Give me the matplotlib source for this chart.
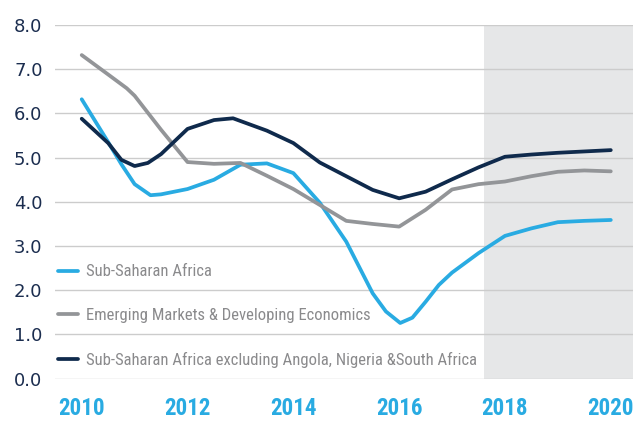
#!/usr/bin/env python3
import matplotlib
matplotlib.use("Agg")
import matplotlib.pyplot as plt
from matplotlib import font_manager

# values, half-year steps plus a few extra points at bends
SSA_X = [2010.0, 2010.5, 2010.75, 2011.0, 2011.3, 2011.5, 2012.0, 2012.5, 2013.0, 2013.5,
         2014.0, 2014.5, 2015.0, 2015.5, 2015.75, 2016.02, 2016.25, 2016.5, 2016.75,
         2017.0, 2017.5, 2018.0, 2018.5, 2019.0, 2019.5, 2020.0]
SSA_Y = [6.32, 5.35, 4.85, 4.40, 4.15, 4.17, 4.29, 4.50, 4.84, 4.87,
         4.65, 3.98, 3.10, 1.93, 1.52, 1.26, 1.38, 1.74, 2.12,
         2.40, 2.84, 3.23, 3.40, 3.54, 3.57, 3.59]

EMDE_X = [2010.0, 2010.5, 2010.85, 2011.0, 2011.5, 2012.0, 2012.5, 2013.0, 2013.5, 2014.0,
          2014.5, 2015.0, 2015.5, 2016.0, 2016.5, 2017.0, 2017.5, 2018.0, 2018.5,
          2019.0, 2019.5, 2020.0]
EMDE_Y = [7.32, 6.88, 6.57, 6.40, 5.63, 4.90, 4.86, 4.88, 4.59, 4.29,
          3.93, 3.57, 3.50, 3.44, 3.82, 4.28, 4.40, 4.46, 4.58,
          4.68, 4.71, 4.69]

EXCL_X = [2010.0, 2010.5, 2010.75, 2011.0, 2011.25, 2011.5, 2012.0, 2012.5, 2012.86, 2013.5,
          2014.0, 2014.5, 2015.0, 2015.5, 2016.0, 2016.5, 2017.0, 2017.5, 2018.0,
          2018.5, 2019.0, 2019.5, 2020.0]
EXCL_Y = [5.88, 5.33, 4.95, 4.81, 4.88, 5.08, 5.65, 5.85, 5.89, 5.61,
          5.33, 4.89, 4.58, 4.27, 4.08, 4.23, 4.51, 4.78, 5.02,
          5.07, 5.11, 5.14, 5.17]

LABELS = ["Sub-Saharan Africa",
          "Emerging Markets & Developing Economics",
          "Sub-Saharan Africa excluding Angola, Nigeria &South Africa"]
X_TICKS = [2010, 2012, 2014, 2016, 2018, 2020]
Y_TICKS = [0, 1, 2, 3, 4, 5, 6, 7, 8]
FORECAST_START = 2017.6

BLUE = "#29abe2"
GREY = "#939598"
NAVY = "#0f2a4c"


def narrow_font():
    # look for a condensed face; fall back to Roboto
    names = {f.name for f in font_manager.fontManager.ttflist}
    for n in ["Liberation Sans Narrow", "Roboto Condensed", "Open Sans Condensed",
              "Noto Sans Condensed"]:
        if n in names:
            return {"family": n}, 1.0
    for f in font_manager.fontManager.ttflist:
        if f.name == "DejaVu Sans" and f.stretch == "condensed":
            return {"family": "DejaVu Sans", "stretch": "condensed"}, 0.9
    return {"family": "Roboto"}, 0.82


def main():
    nf, scale = narrow_font()

    fig = plt.figure(figsize=(6.33, 4.21), dpi=100)
    ax = fig.add_axes([0.0869, 0.1005, 0.9131, 0.8401])

    ax.set_xlim(2009.495, 2020.42)
    ax.set_ylim(0, 8)

    ax.axvspan(FORECAST_START, 2020.42, color="#e6e7e8", zorder=0, lw=0)
    ax.set_axisbelow(True)
    ax.grid(axis="y", color="#cccccc", lw=1.0)
    ax.grid(axis="x", visible=False)

    lw = 2.7
    ax.plot(SSA_X, SSA_Y, color=BLUE, lw=lw, solid_capstyle="round",
            solid_joinstyle="round", label=LABELS[0], zorder=3)
    ax.plot(EMDE_X, EMDE_Y, color=GREY, lw=lw, solid_capstyle="round",
            solid_joinstyle="round", label=LABELS[1], zorder=3)
    ax.plot(EXCL_X, EXCL_Y, color=NAVY, lw=lw, solid_capstyle="round",
            solid_joinstyle="round", label=LABELS[2], zorder=4)

    for s in ax.spines.values():
        s.set_visible(False)

    ax.set_yticks(Y_TICKS)
    ax.set_yticklabels([f"{v:.1f}" for v in Y_TICKS])
    ax.set_xticks(X_TICKS)
    ax.set_xticklabels([str(v) for v in X_TICKS])
    ax.tick_params(axis="both", length=0)
    ax.tick_params(axis="y", pad=9, labelsize=13, labelcolor="#1b2d4f")
    ax.tick_params(axis="x", pad=13, labelcolor=BLUE)
    for t in ax.get_xticklabels():
        t.set_fontproperties(font_manager.FontProperties(weight="bold",
                                                         size=16.6 * scale, **nf))
        t.set_color(BLUE)

    leg_size = 12 * scale
    leg = ax.legend(loc="lower left", bbox_to_anchor=(0.005, 0.03), frameon=False,
                    borderpad=0, borderaxespad=0, handlelength=1.2 * 12 / leg_size,
                    handletextpad=0.5 * 12 / leg_size,
                    labelspacing=1.73 * 12 / leg_size,
                    prop=font_manager.FontProperties(size=leg_size, **nf))
    for t in leg.get_texts():
        t.set_color("#8a8a8c")

    fig.savefig("out.png", dpi=100)


if __name__ == "__main__":
    main()
